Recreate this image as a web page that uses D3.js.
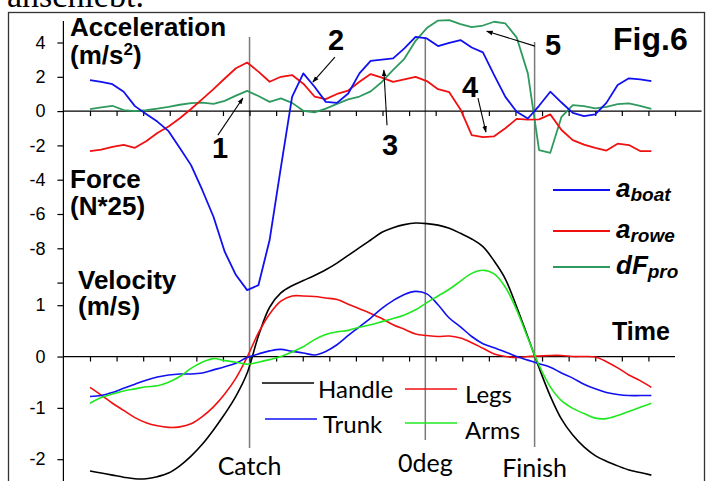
<!DOCTYPE html>
<html><head><meta charset="utf-8">
<script src="https://cdn.jsdelivr.net/npm/d3@7"></script>
<style>body{margin:0;background:#fff;overflow:hidden}svg{display:block}</style>
</head><body>
<svg id="c" width="709" height="481"></svg>
<script>
// ---- data (sample grid, seconds) ----
const sampleStep = 0.04222;
const nSamples = 51;
const time = d3.range(nSamples).map(i => +(i * sampleStep).toFixed(4));

// upper panel: accelerations (m/s2) and force (N*25)
const aBoat = [1.81,1.70,1.57,1.13,0.29,-0.17,-0.61,-1.17,-2.15,-3.15,-4.6,-6.16,-8.2,-9.56,-10.44,-10.15,-7.52,-3.3,0.83,2.2,1.42,0.54,0.48,1.03,2.2,2.93,3.0,3.07,3.66,4.33,4.24,3.79,3.98,4.14,3.71,3.42,2.1,0.83,-0.04,-0.43,0.31,1.13,0.5,-0.1,-0.29,-0.19,0.48,1.52,1.91,1.85,1.75];
const aRowe = [-2.33,-2.25,-2.08,-1.97,-2.14,-1.76,-1.28,-0.9,-0.42,0.12,0.7,1.28,1.9,2.5,2.83,2.3,1.71,2.0,2.1,1.6,0.85,0.7,1.0,1.2,1.71,2.16,1.95,1.7,1.85,2.0,1.75,1.28,1.1,0.1,-1.4,-1.52,-1.47,-1.0,-0.45,-0.5,-0.48,-0.19,-1.1,-1.69,-1.95,-2.15,-2.3,-1.9,-1.98,-2.33,-2.33];
const dFpro = [0.12,0.22,0.31,0.06,0.0,0.05,0.14,0.24,0.37,0.46,0.5,0.42,0.6,0.9,1.18,0.88,0.54,0.74,0.48,0.02,-0.08,0.14,0.42,0.68,0.85,1.15,1.7,2.4,3.05,4.1,4.84,5.28,5.31,5.07,4.9,4.99,5.21,5.11,4.3,2.2,-2.27,-2.43,-0.33,0.35,0.29,0.16,0.25,0.41,0.45,0.3,0.13];

// lower panel: velocities (m/s)
const handle = [-2.23,-2.27,-2.31,-2.35,-2.38,-2.38,-2.34,-2.27,-2.13,-1.94,-1.71,-1.43,-1.12,-0.77,-0.32,0.4,0.96,1.24,1.38,1.48,1.58,1.69,1.82,1.97,2.12,2.27,2.42,2.51,2.57,2.6,2.59,2.56,2.5,2.4,2.29,2.14,1.86,1.51,0.97,0.38,-0.22,-0.77,-1.22,-1.53,-1.76,-1.93,-2.04,-2.13,-2.21,-2.26,-2.31];
const legs = [-0.6,-0.75,-0.91,-1.05,-1.19,-1.29,-1.35,-1.38,-1.37,-1.31,-1.17,-0.98,-0.73,-0.42,-0.01,0.46,0.83,1.08,1.18,1.18,1.17,1.14,1.11,1.02,0.93,0.84,0.74,0.62,0.53,0.44,0.41,0.39,0.4,0.36,0.27,0.16,0.05,0.0,-0.02,0.0,0.01,0.02,0.02,0.0,0.0,-0.01,-0.1,-0.22,-0.36,-0.47,-0.6];
const trunk = [-0.78,-0.76,-0.7,-0.62,-0.54,-0.46,-0.4,-0.36,-0.34,-0.34,-0.32,-0.26,-0.2,-0.13,-0.02,0.05,0.11,0.14,0.1,0.07,0.03,0.1,0.23,0.41,0.58,0.75,0.94,1.09,1.21,1.27,1.22,1.01,0.75,0.58,0.39,0.25,0.17,0.09,0.0,-0.07,-0.14,-0.21,-0.32,-0.42,-0.54,-0.63,-0.7,-0.74,-0.76,-0.76,-0.76];
const arms = [-0.91,-0.8,-0.73,-0.67,-0.63,-0.59,-0.57,-0.5,-0.39,-0.23,-0.11,-0.04,-0.08,-0.11,-0.15,-0.11,-0.06,0.0,0.09,0.19,0.33,0.43,0.48,0.51,0.57,0.62,0.68,0.74,0.81,0.91,1.05,1.18,1.31,1.47,1.62,1.68,1.61,1.35,0.91,0.36,-0.17,-0.59,-0.86,-1.01,-1.11,-1.2,-1.21,-1.15,-1.07,-0.99,-0.91];

// axis ticks / labels
const upperTicks = [4,2,0,-2,-4,-6,-8,-10];
const upperTickLabels = ["4","2","0","-2","-4","-6","-8",""];
const lowerTicks = [1,0,-1,-2];
const lowerTickLabels = ["1","0","-1","-2"];
const timeTicksUpper = d3.range(0, 23).map(k => k / 10);
const timeTicksLower = d3.range(0, 22).map(k => k / 10);

// phase markers (s)
const phaseNames = ["Catch","0deg","Finish"];
const phaseTimes = [0.6, 1.261, 1.672];

// numbered annotations: [label, labelTime, labelValue, fromTime, fromValue, toTime, toValue]
const noteLabels = ["1","2","3","4","5"];
const noteLabelPos = [[0.489,-2.74],[0.925,3.56],[1.128,-2.57],[1.429,0.82],[1.741,3.27]];
const noteArrowFrom = [[0.481,-1.40],[0.921,3.15],[1.117,-0.82],[1.459,0.76],[1.673,3.79]];
const noteArrowTo = [[0.575,0.76],[0.838,1.69],[1.105,2.39],[1.489,-1.22],[1.492,4.66]];

// ---- drawing ----
const svg = d3.select("#c");
const x = d3.scaleLinear().domain([-0.1, 2.3]).range([63.4, 701.6]);
const yUp = d3.scaleLinear().domain([-10, 4]).range([282.6, 42.5]);
const yLo = d3.scaleLinear().domain([-2, 1]).range([459.2, 305.2]);

const SANS = "'Liberation Sans', Arial, sans-serif";
const CAL = "Lato, 'Open Sans', sans-serif";

// cut-off line of text above the figure
svg.append("text").attr("x", 7).attr("y", 7)
  .attr("font-family", "'Liberation Serif', 'Times New Roman', serif")
  .attr("font-size", 34).text("anschiebt.");

// frame
svg.append("rect").attr("x", 8.5).attr("y", 12.5).attr("width", 696).attr("height", 490)
  .attr("fill", "#fff").attr("stroke", "#333").attr("stroke-width", 1.3);

// phase vertical lines
const vTop = [37, 37, 42], vBot = [448, 440, 447];
phaseTimes.forEach((t, i) => {
  svg.append("line").attr("x1", x(t)).attr("x2", x(t)).attr("y1", vTop[i]).attr("y2", vBot[i])
    .attr("stroke", "#7a7a7a").attr("stroke-width", 1.5);
});

// y axis line
svg.append("line").attr("x1", x(-0.1)).attr("x2", x(-0.1)).attr("y1", 21).attr("y2", 481)
  .attr("stroke", "#000").attr("stroke-width", 1.2);

function yAxis(scale, vals, labels) {
  const g = svg.append("g").attr("transform", `translate(${x(-0.1)},0)`)
    .call(d3.axisLeft(scale).tickValues(vals).tickFormat((d, i) => labels[i]).tickSize(6).tickPadding(12));
  g.select(".domain").remove();
  g.selectAll("line").attr("stroke", "#000").attr("stroke-width", 1.2);
  g.selectAll("text").attr("font-family", SANS).attr("font-size", 18).attr("fill", "#000");
}
yAxis(yUp, upperTicks, upperTickLabels);
yAxis(yLo, lowerTicks, lowerTickLabels);

function xAxis(yPos, ticks, endT) {
  svg.append("line").attr("x1", x(-0.1)).attr("x2", x(endT)).attr("y1", yPos).attr("y2", yPos)
    .attr("stroke", "#000").attr("stroke-width", 1.3);
  const g = svg.append("g").attr("transform", `translate(0,${yPos})`)
    .call(d3.axisBottom(x).tickValues(ticks).tickFormat("").tickSize(5));
  g.select(".domain").remove();
  g.selectAll("line").attr("stroke", "#000").attr("stroke-width", 1.2);
}
xAxis(yUp(0), timeTicksUpper, 2.3);
xAxis(yLo(0), timeTicksLower, 2.2);

// series
function drawLine(vals, scale, color, curve, w) {
  const line = d3.line().x((d, i) => x(time[i])).y(d => scale(d)).curve(curve);
  svg.append("path").datum(vals).attr("d", line).attr("fill", "none")
    .attr("stroke", color).attr("stroke-width", w).attr("stroke-linejoin", "round");
}
const cBoat = "#1010f0", cRowe = "#f01010", cPro = "#2f9a5e";
const cHandle = "#000", cLegs = "#f01010", cTrunk = "#1010f0", cArms = "#1fe81f";

drawLine(handle, yLo, cHandle, d3.curveCatmullRom, 1.6);
drawLine(legs, yLo, cLegs, d3.curveCatmullRom, 1.6);
drawLine(trunk, yLo, cTrunk, d3.curveCatmullRom, 1.6);
drawLine(arms, yLo, cArms, d3.curveCatmullRom, 1.6);
drawLine(dFpro, yUp, cPro, d3.curveLinear, 1.8);
drawLine(aRowe, yUp, cRowe, d3.curveLinear, 1.8);
drawLine(aBoat, yUp, cBoat, d3.curveLinear, 1.8);

// axis titles
function bold(txt, xx, yy, size) {
  svg.append("text").attr("x", xx).attr("y", yy).attr("font-family", SANS)
    .attr("font-weight", "bold").attr("font-size", size).text(txt);
}
bold("Acceleration", 70, 36, 26);
const ms2 = svg.append("text").attr("x", 70).attr("y", 64).attr("font-family", SANS)
  .attr("font-weight", "bold").attr("font-size", 26);
ms2.append("tspan").text("(m/s");
ms2.append("tspan").attr("font-size", 17).attr("dy", -9).text("2");
ms2.append("tspan").attr("dy", 9).text(")");
bold("Force", 70, 188, 26);
bold("(N*25)", 70, 215, 26);
bold("Velocity", 78, 289, 26);
bold("(m/s)", 78, 315, 26);
bold("Fig.6", 613, 50, 32);
bold("Time", 612, 340, 25);

// upper legend
const upLegend = [["a","boat",cBoat,190],["a","rowe",cRowe,231],["dF","pro",cPro,267]];
upLegend.forEach(([m, s, c, yy]) => {
  svg.append("line").attr("x1", 553).attr("x2", 610).attr("y1", yy).attr("y2", yy)
    .attr("stroke", c).attr("stroke-width", 1.8);
  const t = svg.append("text").attr("x", 616).attr("y", yy + 6.5).attr("font-family", SANS)
    .attr("font-weight", "bold").attr("font-style", "italic").attr("font-size", 26);
  t.append("tspan").text(m);
  t.append("tspan").attr("font-size", 19).attr("dy", 4).text(s);
});

// lower legend
const loLegend = [["Handle",cHandle,262,383,318,398],["Trunk",cTrunk,265,419,323,433],
                  ["Legs",cLegs,405,389,465,403],["Arms",cArms,405,423,465,439]];
loLegend.forEach(([name, c, lx, ly, tx, ty]) => {
  svg.append("line").attr("x1", lx).attr("x2", lx + 52).attr("y1", ly).attr("y2", ly)
    .attr("stroke", c).attr("stroke-width", 1.6);
  svg.append("text").attr("x", tx).attr("y", ty).attr("font-family", CAL)
    .attr("font-size", 24).text(name);
});

// phase labels
const phaseLabelY = [475, 472, 476.5];
phaseNames.forEach((n, i) => {
  svg.append("text").attr("x", x(phaseTimes[i])).attr("y", phaseLabelY[i])
    .attr("text-anchor", "middle").attr("font-family", CAL).attr("font-size", 25).text(n);
});

// annotations
svg.append("defs").append("marker").attr("id", "ah").attr("viewBox", "0 0 10 10")
  .attr("refX", 9).attr("refY", 5).attr("markerWidth", 6).attr("markerHeight", 6)
  .attr("orient", "auto").append("path").attr("d", "M0,1.5 L10,5 L0,8.5 Z").attr("fill", "#000");
noteLabels.forEach((lab, i) => {
  svg.append("line")
    .attr("x1", x(noteArrowFrom[i][0])).attr("y1", yUp(noteArrowFrom[i][1]))
    .attr("x2", x(noteArrowTo[i][0])).attr("y2", yUp(noteArrowTo[i][1]))
    .attr("stroke", "#000").attr("stroke-width", 1.1).attr("marker-end", "url(#ah)");
  svg.append("text").attr("x", x(noteLabelPos[i][0])).attr("y", yUp(noteLabelPos[i][1]))
    .attr("text-anchor", "middle").attr("font-family", SANS).attr("font-weight", "bold")
    .attr("font-size", 29).text(lab);
});
</script>
</body></html>
